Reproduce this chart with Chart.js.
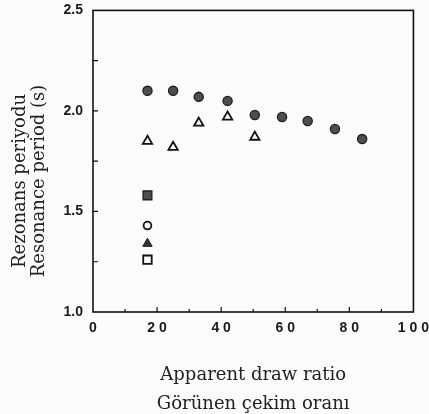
<!DOCTYPE html>
<html lang="en">
<head>
<meta charset="UTF-8">
<title>Resonance period vs apparent draw ratio</title>
<style>
* {
    margin: 0;
    padding: 0;
    box-sizing: border-box;
}
body {
    background: #fbfbfb;
    overflow: hidden;
}
.chart-box {
    position: relative;
    width: 429px;
    height: 414px;
}
</style>
</head>
<body>
<div class="chart-box">
    <canvas id="periodChart" width="429" height="414"></canvas>
</div>
<script src="https://cdn.jsdelivr.net/npm/chart.js@4.4.1/dist/chart.umd.min.js"></script>
<script>
// values
var drawRatioCircles = [17, 25, 33, 42, 50.5, 59, 67, 75.5, 84];
var periodCircles = [2.10, 2.10, 2.07, 2.05, 1.98, 1.97, 1.95, 1.91, 1.86];
var drawRatioTriangles = [17, 25, 33, 42, 50.5];
var periodTriangles = [1.85, 1.82, 1.94, 1.97, 1.87];
var drawRatioSingle = [17];
var periodFilledSquare = [1.58];
var periodOpenCircle = [1.43];
var periodFilledTriangle = [1.34];
var periodOpenSquare = [1.26];
var xTicks = [0, 20, 40, 60, 80, 100];
var yTicks = [1.0, 1.5, 2.0, 2.5];
var xTitle = ['Apparent draw ratio', 'Görünen çekim oranı'];
var yTitle = ['Rezonans periyodu', 'Resonance period (s)'];

function toPoints(xs, ys) {
    return ys.map(function (y, i) { return { x: xs[i], y: y }; });
}

// inward ticks, plot frame and the rotated y title
var framePlugin = {
    id: 'frame',
    afterDraw: function (chart) {
        var ctx = chart.ctx;
        var a = chart.chartArea;
        var xs = chart.scales.x;
        var ys = chart.scales.y;
        ctx.save();
        ctx.strokeStyle = '#111';
        ctx.lineWidth = 1.2;
        ctx.beginPath();
        for (var v = 10; v < 100; v += 10) {
            var px = xs.getPixelForValue(v);
            var len = v % 20 === 0 ? 5 : 3;
            ctx.moveTo(px, a.bottom);
            ctx.lineTo(px, a.bottom - len);
        }
        for (var w = 1.25; w < 2.5; w += 0.25) {
            var py = ys.getPixelForValue(w);
            ctx.moveTo(a.left, py);
            ctx.lineTo(a.left + 5, py);
        }
        ctx.stroke();
        ctx.lineWidth = 1.6;
        ctx.strokeRect(a.left, a.top, a.right - a.left, a.bottom - a.top);

        ctx.fillStyle = '#222';
        ctx.font = '18px "DejaVu Serif", serif';
        ctx.textAlign = 'center';
        ctx.textBaseline = 'middle';
        ctx.translate(20, 181);
        ctx.rotate(-Math.PI / 2);
        ctx.fillText(yTitle[0], 0, 0);
        ctx.fillText(yTitle[1], 0, 19);
        ctx.restore();
    }
};

var ctx = document.getElementById('periodChart').getContext('2d');
var periodChart = new Chart(ctx, {
    type: 'scatter',
    data: {
        datasets: [{
            label: 'filled circle',
            data: toPoints(drawRatioCircles, periodCircles),
            pointStyle: 'circle',
            radius: 4.6,
            backgroundColor: '#4d4d4d',
            borderColor: '#1e1e1e',
            borderWidth: 1.3
        }, {
            label: 'open triangle',
            data: toPoints(drawRatioTriangles, periodTriangles),
            pointStyle: 'triangle',
            radius: 5.4,
            backgroundColor: 'rgba(255,255,255,0)',
            borderColor: '#111',
            borderWidth: 1.8
        }, {
            label: 'filled square',
            data: toPoints(drawRatioSingle, periodFilledSquare),
            pointStyle: 'rect',
            radius: 6.2,
            backgroundColor: '#4d4d4d',
            borderColor: '#1e1e1e',
            borderWidth: 1.3
        }, {
            label: 'open circle',
            data: toPoints(drawRatioSingle, periodOpenCircle),
            pointStyle: 'circle',
            radius: 3.9,
            backgroundColor: 'rgba(255,255,255,0)',
            borderColor: '#111',
            borderWidth: 1.8
        }, {
            label: 'filled triangle',
            data: toPoints(drawRatioSingle, periodFilledTriangle),
            pointStyle: 'triangle',
            radius: 5.4,
            backgroundColor: '#333',
            borderColor: '#1e1e1e',
            borderWidth: 1
        }, {
            label: 'open square',
            data: toPoints(drawRatioSingle, periodOpenSquare),
            pointStyle: 'rect',
            radius: 6,
            backgroundColor: 'rgba(255,255,255,0)',
            borderColor: '#111',
            borderWidth: 1.8
        }]
    },
    options: {
        responsive: false,
        animation: false,
        layout: {
            padding: { top: 10, right: 14, left: 0, bottom: 0 }
        },
        plugins: {
            legend: { display: false },
            tooltip: { enabled: false }
        },
        scales: {
            x: {
                type: 'linear',
                min: 0,
                max: 100,
                afterBuildTicks: function (scale) {
                    scale.ticks = xTicks.map(function (v) { return { value: v }; });
                },
                afterFit: function (scale) { scale.height = 102; },
                grid: { display: false },
                border: { display: false },
                ticks: {
                    padding: 0,
                    color: '#1a1a1a',
                    font: { family: '"Liberation Sans", Arial, sans-serif', size: 14, weight: 'bold' },
                    callback: function (v) { return String(v).split('').join(' '); }
                },
                title: {
                    display: true,
                    text: xTitle,
                    color: '#222',
                    font: { family: '"DejaVu Serif", serif', size: 18, lineHeight: 1.6 },
                    padding: { top: 0, bottom: -5 }
                }
            },
            y: {
                type: 'linear',
                min: 1,
                max: 2.5,
                afterBuildTicks: function (scale) {
                    scale.ticks = yTicks.map(function (v) { return { value: v }; });
                },
                afterFit: function (scale) { scale.width = 93; },
                grid: { display: false },
                border: { display: false },
                ticks: {
                    padding: 2,
                    color: '#1a1a1a',
                    font: { family: '"Liberation Sans", Arial, sans-serif', size: 14, weight: 'bold' },
                    callback: function (v) { return v.toFixed(1); }
                }
            }
        }
    },
    plugins: [framePlugin]
});
</script>
</body>
</html>
